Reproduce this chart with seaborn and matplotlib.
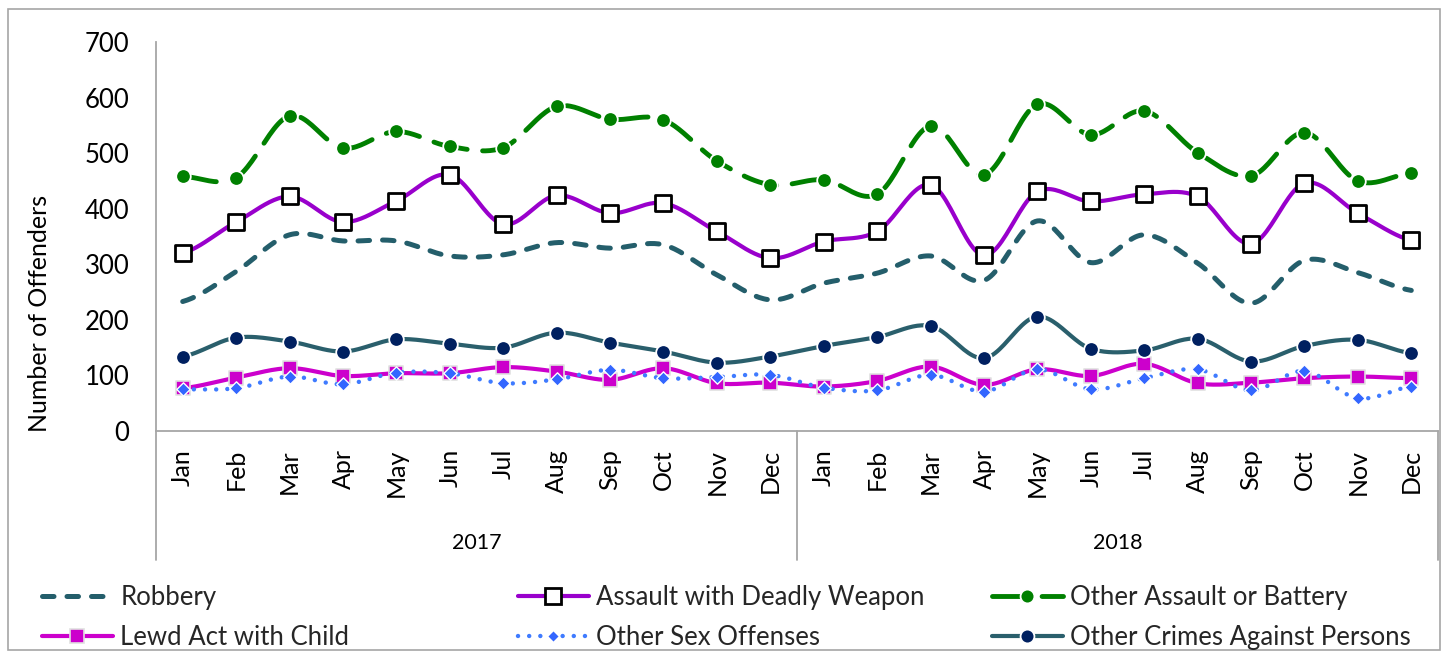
import numpy as np
import pandas as pd
import matplotlib
matplotlib.use("Agg")
import matplotlib.pyplot as plt
import matplotlib.transforms as mtransforms
from matplotlib.lines import Line2D
from matplotlib.patches import Rectangle
import seaborn as sns

# ---- data -------------------------------------------------------------
months = ["Jan", "Feb", "Mar", "Apr", "May", "Jun",
          "Jul", "Aug", "Sep", "Oct", "Nov", "Dec"]
years = ["2017", "2018"]

robbery = [233, 287, 353, 342, 342, 315, 317, 339, 329, 335, 281, 236,
           266, 284, 315, 271, 378, 303, 353, 302, 230, 307, 285, 253]
assault_deadly = [320, 376, 422, 376, 414, 461, 372, 424, 392, 410, 359, 311,
                  341, 359, 443, 316, 431, 413, 426, 422, 337, 446, 392, 343]
other_assault = [458, 456, 567, 509, 539, 512, 510, 584, 561, 560, 486, 443,
                 452, 426, 549, 461, 588, 533, 576, 501, 459, 537, 450, 464]
lewd_act = [77, 96, 113, 99, 104, 104, 115, 107, 92, 113, 86, 87,
            80, 90, 116, 83, 111, 99, 121, 86, 87, 95, 98, 95]
other_sex = [75, 77, 98, 84, 105, 104, 86, 93, 110, 95, 97, 101,
             78, 73, 101, 71, 111, 75, 95, 111, 73, 108, 59, 80]
other_persons = [134, 168, 161, 143, 165, 157, 150, 177, 159, 143, 123, 134,
                 153, 169, 189, 131, 206, 148, 145, 166, 125, 153, 164, 140]

series_names = ["Robbery", "Assault with Deadly Weapon", "Other Assault or Battery",
                "Lewd Act with Child", "Other Sex Offenses", "Other Crimes Against Persons"]
series_values = [robbery, assault_deadly, other_assault, lewd_act, other_sex, other_persons]

tick_labels = months * len(years)
n_pts = len(tick_labels)

rows = []
for name, vals in zip(series_names, series_values):
    for i, v in enumerate(vals):
        rows.append({"series": name, "pos": i, "value": v})
df = pd.DataFrame(rows)

# ---- styles -----------------------------------------------------------
styles = {
    "Robbery": dict(color="#245E6B", lw=3.6, dashes=(2.3, 2.6), cap="round",
                    marker=None),
    "Assault with Deadly Weapon": dict(color="#9900CC", lw=3.0, dashes=None, cap="round",
                                       marker="s", ms=12.0, mfc="white", mec="black", mew=2.0),
    "Other Assault or Battery": dict(color="#008000", lw=3.5, dashes=(7.0, 3.2), cap="round",
                                     marker="o", ms=10.5, mfc="#008000", mec="white", mew=1.3),
    "Lewd Act with Child": dict(color="#CC00CC", lw=3.0, dashes=None, cap="round",
                                marker="s", ms=10.5, mfc="#CC00CC", mec="#E0E0E0", mew=1.2),
    "Other Sex Offenses": dict(color="#3F7BFF", lw=3.2, dashes=(0.01, 2.5), cap="round",
                               marker="D", ms=6.8, mfc="#3366FF", mec="white", mew=1.0),
    "Other Crimes Against Persons": dict(color="#2A5F6C", lw=3.0, dashes=None, cap="round",
                                         marker="o", ms=10.5, mfc="#002060", mec="white", mew=1.3),
}


def smooth_curve(vals, steps=24):
    """Cubic Hermite (Catmull-Rom style) curve through every point."""
    y = np.asarray(vals, dtype=float)
    m = np.empty_like(y)
    m[1:-1] = (y[2:] - y[:-2]) / 2.0
    m[0] = (y[1] - y[0]) / 2.0
    m[-1] = (y[-1] - y[-2]) / 2.0
    xs, ys = [], []
    for i in range(len(y) - 1):
        t = np.linspace(0, 1, steps, endpoint=False)
        h00 = 2 * t**3 - 3 * t**2 + 1
        h10 = t**3 - 2 * t**2 + t
        h01 = -2 * t**3 + 3 * t**2
        h11 = t**3 - t**2
        xs.append(i + t)
        ys.append(h00 * y[i] + h10 * m[i] + h01 * y[i + 1] + h11 * m[i + 1])
    xs.append([len(y) - 1])
    ys.append([y[-1]])
    return np.concatenate(xs), np.concatenate(ys)


# ---- figure -----------------------------------------------------------
sns.set_theme(style="white")
plt.rcParams["font.family"] = ["Lato", "DejaVu Sans"]

W, H = 1450, 658
fig = plt.figure(figsize=(W / 100, H / 100), dpi=100)
fig.patch.set_facecolor("white")
ax_l, ax_r, ax_t, ax_b = 156, 1438, 42, 431
ax = fig.add_axes([ax_l / W, 1 - ax_b / H, (ax_r - ax_l) / W, (ax_b - ax_t) / H])

for z, name in enumerate(series_names):
    st = styles[name]
    vals = df.loc[df["series"] == name, "value"].to_numpy()
    xs, ys = smooth_curve(vals)
    line, = ax.plot(xs, ys, color=st["color"], lw=st["lw"], zorder=2 + 2 * z,
                    solid_capstyle="round", dash_capstyle=st["cap"])
    if st["dashes"] is not None:
        line.set_dashes(st["dashes"])
    if st["marker"] is not None:
        sns.scatterplot(data=df[df["series"] == name], x="pos", y="value",
                        marker=st["marker"], s=st["ms"] ** 2, color=st["mfc"],
                        edgecolor=st["mec"], linewidth=st["mew"], ax=ax,
                        zorder=3 + 2 * z, legend=False)

ax.set_xlim(-0.5, n_pts - 0.5)
ax.set_ylim(0, 700)
ax.set_yticks(range(0, 701, 100))
ax.set_xticks(range(n_pts))
ax.set_xticklabels(tick_labels, rotation=90, va="top", ha="center")
ax.tick_params(axis="x", length=0, pad=13, labelsize=18, colors="black")
ax.tick_params(axis="y", length=0, pad=19, labelsize=18.5, colors="black")
ax.set_xlabel("")
ax.set_ylabel("")
ax.grid(False)

axis_gray = "#A6A6A6"
for side in ("top", "right"):
    ax.spines[side].set_visible(False)
for side in ("left", "bottom"):
    ax.spines[side].set_color(axis_gray)
    ax.spines[side].set_linewidth(1.3)

# multi-level category axis: group dividers and year labels
trans = mtransforms.blended_transform_factory(ax.transData, ax.transAxes)
y_low = -(560 - ax_b) / (ax_b - ax_t)
for xd in (-0.5, 11.5, n_pts - 0.5):
    ax.plot([xd, xd], [0, y_low], transform=trans, color=axis_gray, lw=1.3,
            clip_on=False, zorder=1)
y_year = -(543 - ax_b) / (ax_b - ax_t)
for k, yr in enumerate(years):
    ax.text(k * 12 + 5.5, y_year, yr, transform=trans, ha="center", va="center",
            fontsize=15.5, color="black")

fig.text(40 / W, 1 - 313 / H, "Number of Offenders", rotation=90,
         ha="center", va="center", fontsize=18, color="black")


# ---- legend (three columns, two rows) ----------------------------------
def proxy(name):
    st = styles[name]
    h = Line2D([0], [0], color=st["color"], lw=st["lw"],
               dash_capstyle=st["cap"], solid_capstyle="round",
               marker=st["marker"] if st["marker"] else None,
               markersize=st.get("ms", 0) * 0.95 if st["marker"] else 0,
               markerfacecolor=st.get("mfc"), markeredgecolor=st.get("mec"),
               markeredgewidth=st.get("mew", 1))
    if st["dashes"] is not None:
        h.set_dashes(st["dashes"])
    return h


columns = [(42, [series_names[0], series_names[3]]),
           (518, [series_names[1], series_names[4]]),
           (992, [series_names[2], series_names[5]])]
for x0, names in columns:
    fig.legend([proxy(n) for n in names], names, loc="upper left",
               bbox_to_anchor=(x0 / W, 1 - 585 / H), frameon=False,
               fontsize=18.5, handlelength=2.75, handletextpad=0.3,
               labelspacing=0.58, borderpad=0, borderaxespad=0, numpoints=1)

# outer chart border
fig.patches.append(Rectangle((8 / W, 1 - 650 / H), (1440 - 8) / W, (650 - 9) / H,
                             transform=fig.transFigure, fill=False,
                             edgecolor="#A6A6A6", lw=1.2, zorder=0))

fig.savefig("out.png", dpi=100)
